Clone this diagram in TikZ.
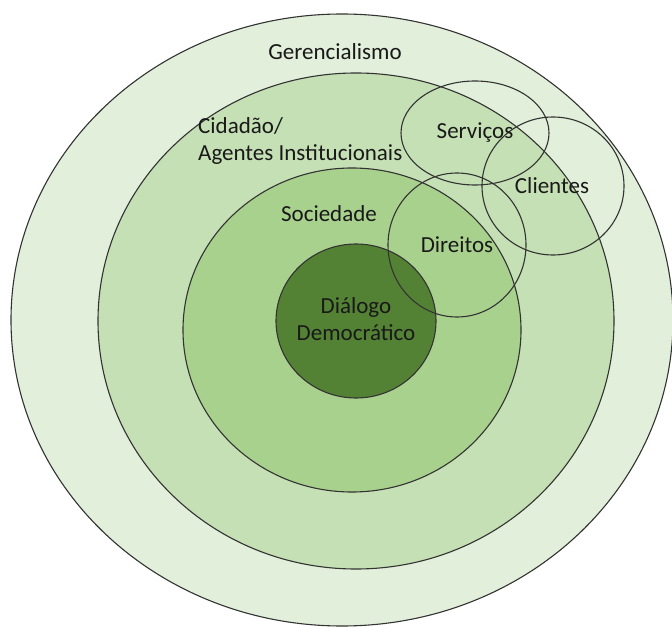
\documentclass[tikz,border=0pt]{standalone}
\usepackage{fontspec}
\setmainfont{Carlito}
\begin{document}
\begin{tikzpicture}[x=1pt,y=-1pt,
  ring/.style={draw=black!80, line width=1.1pt},
  lbl/.style={font=\fontsize{23}{27}\selectfont, text=black!90, inner sep=0pt, align=center}]
\definecolor{gLight}{HTML}{E2EFDA}
\definecolor{gMid}{HTML}{C5E0B4}
\definecolor{gSoc}{HTML}{A9D18E}
\definecolor{gDark}{HTML}{548235}
\useasboundingbox (0,0) rectangle (672,628);
% nested layers
\draw[ring, fill=gLight] (342,320) ellipse [x radius=331, y radius=306];
\draw[ring, fill=gMid]   (356,321) ellipse [x radius=258, y radius=248];
\draw[ring, fill=gSoc]   (352,330) ellipse [x radius=169, y radius=162];
\draw[ring, fill=gDark]  (356,321) ellipse [x radius=80, y radius=77];
% overlapping outline circles
\draw[ring] (475,133) ellipse [x radius=74, y radius=52];
\draw[ring] (553,186) ellipse [x radius=71, y radius=69];
\draw[ring] (457,245) ellipse [x radius=69, y radius=72];
% labels
\node[lbl] (ger) at (335,52) {Gerencialismo};
\node[lbl, align=left, anchor=west] (cid) at (198,141) {Cidadão/\\Agentes Institucionais};
\node[lbl] (soc) at (329,214) {Sociedade};
\node[lbl] (ser) at (475,133) {Serviços};
\node[lbl] (cli) at (552,186) {Clientes};
\node[lbl] (dir) at (457,245) {Direitos};
\node[lbl] (dia) at (356,319) {Diálogo\\Democrático};
\end{tikzpicture}
\end{document}
